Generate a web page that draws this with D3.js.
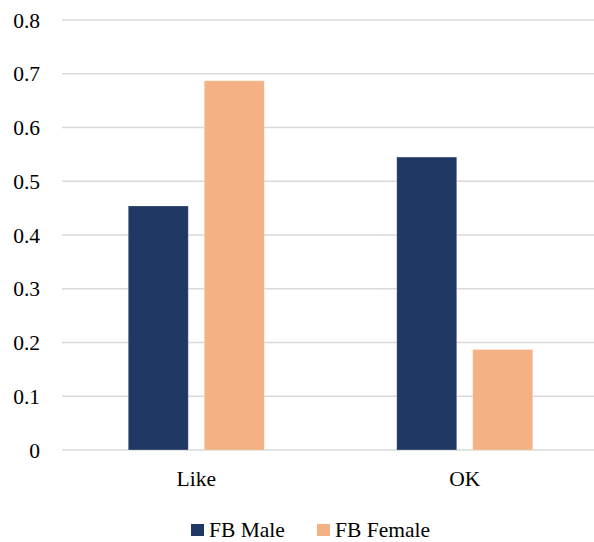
<!DOCTYPE html>
<html>
<head>
<meta charset="utf-8">
<script src="https://cdn.jsdelivr.net/npm/d3@7"></script>
<style>
  svg text { font-family: "Liberation Serif", "Times New Roman", serif !important; }
</style>
</head>
<body style="margin:0;background:#fff">
<svg id="chart" width="594" height="542" style="display:block"></svg>
<script>
// Reaction categories and the share of each group per category
const categories = ["Like", "OK"];
const seriesNames = ["FB Male", "FB Female"];
const fbMale = [0.454, 0.545];
const fbFemale = [0.687, 0.187];
const yTicks = [0, 0.1, 0.2, 0.3, 0.4, 0.5, 0.6, 0.7, 0.8];
const colors = ["#203864", "#F4B183"];

const fontSize = 21.5;
const svg = d3.select("#chart");
const W = 594;
const plotLeft = 62, plotRight = 599, plotTop = 20, plotBottom = 450;

const x = d3.scaleBand().domain(categories).range([plotLeft, plotRight]);
const y = d3.scaleLinear().domain([0, 0.8]).range([plotBottom, plotTop]);
const barW = 60, barGap = 16;

// Serif label helper
function serif(sel) {
  sel.attr("font-family", "Liberation Serif")
    .attr("font-size", fontSize)
    .attr("fill", "#000")
    .each(function () {
      this.style.setProperty("font-family", "'Liberation Serif', 'Times New Roman', serif", "important");
    });
  return sel;
}

// Horizontal gridlines
svg.append("g")
  .selectAll("line")
  .data(yTicks)
  .join("line")
  .attr("x1", plotLeft)
  .attr("x2", W)
  .attr("y1", d => y(d))
  .attr("y2", d => y(d))
  .attr("stroke", "#d9d9d9")
  .attr("stroke-width", 1.5);

// Y axis labels, right-aligned against the value scale
svg.append("g")
  .selectAll("text")
  .data(yTicks)
  .join("text")
  .attr("x", 40)
  .attr("y", d => y(d))
  .attr("dy", "0.35em")
  .attr("text-anchor", "end")
  .call(serif)
  .text(d => d === 0 ? "0" : d3.format(".1f")(d));

// Bars
const series = [fbMale, fbFemale];
const groupW = barW * 2 + barGap;
series.forEach((vals, si) => {
  svg.append("g")
    .selectAll("rect")
    .data(categories.map((c, i) => ({ c, v: vals[i] })))
    .join("rect")
    .attr("x", d => x(d.c) + x.bandwidth() / 2 - groupW / 2 + si * (barW + barGap))
    .attr("y", d => y(d.v))
    .attr("width", barW)
    .attr("height", d => y(0) - y(d.v))
    .attr("fill", colors[si])
    .attr("stroke", "#ffffff")
    .attr("stroke-opacity", 0.35)
    .attr("stroke-width", 0.75);
});

// Category labels
svg.append("g")
  .selectAll("text")
  .data(categories)
  .join("text")
  .attr("x", d => x(d) + x.bandwidth() / 2)
  .attr("y", 486)
  .attr("text-anchor", "middle")
  .call(serif)
  .text(d => d);

// Legend
const legendX = [191, 317];
const legend = svg.append("g");
seriesNames.forEach((name, i) => {
  legend.append("rect")
    .attr("x", legendX[i]).attr("y", 524)
    .attr("width", 13).attr("height", 12)
    .attr("fill", colors[i]);
  legend.append("text")
    .attr("x", legendX[i] + 18).attr("y", 537)
    .call(serif)
    .text(name);
});
</script>
</body>
</html>
